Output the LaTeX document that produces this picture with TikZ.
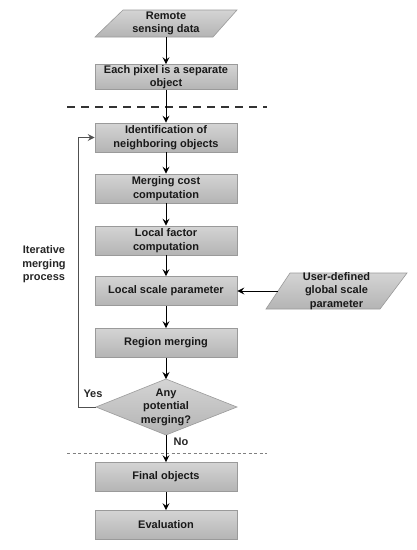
\documentclass[tikz,border=0pt]{standalone}
\usepackage{fontspec}
\setmainfont{Liberation Sans}
\usetikzlibrary{arrows.meta,shapes.geometric}
\definecolor{topgray}{HTML}{D4D4D4}
\definecolor{botgray}{HTML}{B4B4B4}
\definecolor{bordergray}{HTML}{9A9A9A}
\definecolor{loopgray}{HTML}{505050}
\begin{document}
\begin{tikzpicture}[x=1pt,y=-1pt,
  txt/.style={font=\bfseries\fontsize{11}{13.5}\selectfont, align=center, inner sep=0pt, text=black!90},
  box/.style={txt, draw=bordergray, line width=0.6pt, top color=topgray, bottom color=botgray, minimum width=142pt, minimum height=29pt},
  shp/.style={draw=bordergray, line width=0.6pt, top color=topgray, bottom color=botgray},
  arr/.style={-{Stealth[length=7pt,width=7pt,inset=2.5pt]}, line width=0.9pt, black},
  lbl/.style={font=\bfseries\fontsize{11}{13.5}\selectfont, align=center, inner sep=0pt, text=black!85}]
\useasboundingbox (0,0) rectangle (416,550);
% shapes for parallelograms and diamond
\path[shp] (123,10) -- (237,10) -- (213,37) -- (95,37) -- cycle;
\path[shp] (290,273) -- (407,273) -- (380,309) -- (266,309) -- cycle;
\coordinate (dtop) at (166,379);
\coordinate (dleft) at (96,407);
\coordinate (dright) at (237,407);
\coordinate (dbot) at (166,435);
\path[shp] (dtop) -- (dright) -- (dbot) -- (dleft) -- cycle;
% nodes
\node[txt, minimum height=27pt] (rs) at (166,23.5) {Remote\\sensing data};
\node[box, minimum height=25pt] (pix) at (166,77) {Each pixel is a separate\\object};
\node[box] (id) at (166,137.5) {Identification of\\neighboring objects};
\node[box] (mc) at (166,188.5) {Merging cost\\computation};
\node[box] (lf) at (166,240.5) {Local factor\\computation};
\node[box] (ls) at (166,291) {Local scale parameter};
\node[box] (rm) at (166,343) {Region merging};
\node[txt] (dm) at (166,407) {Any\\potential\\merging?};
\node[box] (fo) at (166,477) {Final objects};
\node[box] (ev) at (166,525) {Evaluation};
\node[txt] (ud) at (336.5,291) {User-defined\\global scale\\parameter};
\coordinate (udw) at (278,291);
% dashed separators
\coordinate (d1l) at (67,107);
\coordinate (d1r) at (267,107);
\coordinate (d2l) at (67,453);
\coordinate (d2r) at (267,453);
\draw[line width=1.5pt, black!80, dash pattern=on 8pt off 6pt] (d1l) -- (d1r);
\draw[line width=0.7pt, black!50, dash pattern=on 3pt off 2.5pt] (d2l) -- (d2r);
% connectors
\draw[arr] (rs.south) -- (pix.north);
\draw[arr] (pix.south) -- (id.north);
\draw[arr] (id.south) -- (mc.north);
\draw[arr] (mc.south) -- (lf.north);
\draw[arr] (lf.south) -- (ls.north);
\draw[arr] (ls.south) -- (rm.north);
\draw[arr] (rm.south) -- (dtop);
\draw[arr] (dbot) -- (fo.north);
\draw[arr] (fo.south) -- (ev.north);
\draw[arr] (udw) -- (ls.east);
\draw[-{Stealth[length=7pt,width=7pt,inset=2.5pt]}, line width=0.9pt, loopgray] (dleft) -- (78,407) |- (id.west);
% labels
\node[lbl] (yes) at (93,394) {Yes};
\node[lbl] (no) at (181,442) {No};
\node[lbl] (iter) at (44,264.5) {Iterative\\merging\\process};
\end{tikzpicture}
\end{document}
